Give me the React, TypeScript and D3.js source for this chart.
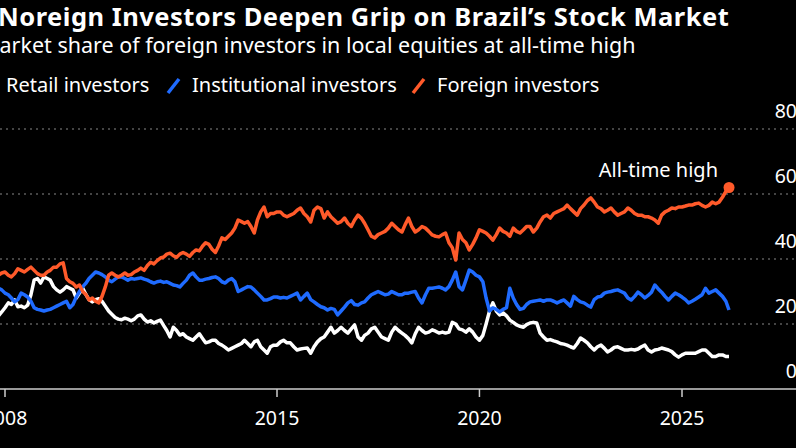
import React from "react";
import * as d3 from "d3";

// Monthly share of trading volume on B3 by investor type, Nov 2007 - Mar 2026 (%)
const startMonth = new Date(2007, 10, 1);

const foreignInvestors = [
  35, 35.7, 36, 35, 34.5, 35.5, 37, 36.5, 36, 36.8,
  37.5, 36.5, 35.5, 35, 35, 36, 36.5, 37.5, 37.5, 38.5,
  38.8, 34, 33, 32.5, 31.4, 32, 30, 29, 27.4, 28,
  27, 26.5, 28.5, 31.4, 35, 35.7, 35, 34.5, 35, 35.7,
  35, 35.2, 36, 36.5, 37.2, 36.5, 38, 39, 38.5, 39.5,
  40.3, 40.6, 41.5, 41.8, 41, 40.5, 41.5, 42, 41.5, 40.8,
  42, 42.8, 42.5, 44, 45, 44.5, 43, 42, 44, 46.5,
  46, 47, 48, 49.5, 52, 51.5, 51, 51.5, 50, 48,
  52, 54.5, 56, 53, 54, 54, 54.5, 54.5, 53.5, 53,
  53.5, 54, 55, 55.7, 54, 53, 51.4, 55, 56, 55.5,
  52.6, 54.5, 53, 52, 51, 51.5, 52.6, 51, 50, 52,
  53.5, 52.5, 51, 49, 47, 46.5, 47.5, 48, 48.5, 49.5,
  51, 50, 49, 48.3, 50.5, 52.6, 50, 48.3, 49, 50,
  49.5, 48.5, 47.4, 47, 46.8, 47.5, 48, 45, 43.5, 39.7,
  48, 46, 45, 42.8, 44.5, 46.5, 49, 48.5, 48, 47,
  45.8, 47.5, 49.5, 48.5, 48, 47, 49.5, 48.5, 48, 49,
  50, 50, 48.3, 49.5, 51.4, 53, 53.5, 52.6, 54, 54.5,
  55, 55.5, 56.6, 55.5, 54.5, 53.5, 55.5, 56.6, 58, 58.8,
  57.5, 56, 55.5, 54.5, 55, 55.7, 54.5, 53.5, 54, 54.5,
  55.7, 55, 54, 53.5, 53.5, 53, 53, 52.6, 52, 51,
  53.5, 54.5, 55, 55.7, 55.5, 56, 56, 56.3, 56.6, 56.6,
  57, 57.2, 56.5, 56, 56.5, 57.5, 57, 57.5, 59, 60.8,
  62,
];

const institutionalInvestors = [
  31, 30.5, 29.5, 29, 28, 26.8, 27.5, 29.5, 29, 28.3,
  27, 25, 24.5, 24.3, 24, 24.3, 24.5, 25, 25.5, 26,
  26.5, 27, 25, 26, 28.3, 30, 31.5, 32.6, 34, 35,
  36, 35.7, 35.2, 34.5, 33.5, 33, 33.8, 34.5, 34.5, 34,
  33.5, 34, 33.8, 34, 34.2, 33.8, 33.5, 33, 32.6, 33,
  33.2, 32.8, 33, 32.5, 32, 31.8, 31.4, 32.5, 33.5, 35,
  35.7, 34.5, 33.5, 33.5, 33.8, 34, 34.3, 34.5, 34, 33,
  32.6, 33.5, 34, 33, 30, 30.5, 31, 31.5, 31.4, 30.5,
  29.5, 28.5, 27.4, 27.4, 27.8, 28.3, 28.3, 28, 28.2, 28,
  28.5, 29, 29.5, 27.4, 28.5, 29.5, 27.5, 26.8, 26, 25.3,
  25, 24.3, 24.8, 24.5, 22.8, 24, 25.2, 26.5, 27.2, 26,
  25.8, 26.5, 26.8, 28, 29, 29.5, 30, 29.5, 29, 29.2,
  30, 29.5, 29, 29, 29.5, 29.5, 29.8, 30, 28, 26.5,
  29, 31, 31, 31.2, 31.4, 31, 30.5, 31.5, 33.5, 36,
  31.5, 30.5, 33.5, 36.6, 36, 35, 34.5, 33, 28, 24,
  25, 24.5, 23.7, 24.5, 25, 31, 28, 26, 24.5, 24.8,
  26, 26.8, 27, 27.2, 27.4, 27, 27.4, 27.4, 27, 26.5,
  27, 27.4, 26.5, 25.5, 28.5, 27.5, 26.8, 26.5, 25.8, 25.2,
  27.5, 28.3, 28.5, 29.5, 29.8, 30, 30.3, 30.5, 30, 29.5,
  28, 27.4, 28.5, 29.8, 29, 28, 28.8, 29.8, 32, 30.8,
  29.8, 28.5, 27.4, 28.5, 29.5, 29, 28.3, 27.5, 26.5, 27,
  27.6, 28.3, 29, 31, 29.5, 30, 30.5, 29.5, 28.5, 27,
  24.3,
];

const retailInvestors = [
  22.5, 23.7, 25, 26.5, 26, 27.4, 25.3, 25.5, 25, 25.8,
  29, 33.5, 34, 32.6, 34.5, 34, 33.5, 31.5, 30.5, 29.8,
  30.5, 31.5, 31, 30.5, 28, 29.5, 31, 29, 27.5, 26.8,
  27.5, 27.8, 27, 25.5, 24, 23, 22, 21.5, 21.3, 21.8,
  21.5, 21, 21.5, 22.5, 22.8, 21.5, 20.6, 21, 20.3, 20.8,
  21.2, 19.5, 18, 16, 19, 18, 16.6, 17, 16, 15.5,
  15, 16, 17, 15.5, 14.2, 14.5, 15, 15, 14, 13.5,
  12.8, 12, 12.5, 13, 13.5, 14, 15, 14, 13, 14.5,
  15, 13, 12, 11, 13, 13.5, 13.5, 14.5, 15, 14.2,
  14.2, 13, 12, 12.3, 12.5, 12.6, 11, 13, 14.5, 15.5,
  16, 17.5, 19, 17.2, 18, 19, 18, 17.2, 18.5, 19.7,
  16, 15, 16.5, 17.2, 18.5, 19, 17.5, 16, 15.5, 15,
  17.5, 19, 18, 17.2, 16.5, 15.5, 14.2, 17, 19, 18,
  17.2, 17.5, 18.2, 17.8, 17.2, 17.5, 17.2, 17.5, 20.5, 20,
  18.5, 18.2, 17.5, 18.5, 17.5, 16, 15, 16.5, 20, 24,
  26.5, 24, 22.8, 23.4, 22.5, 21.2, 20.5, 19.7, 19.3, 19,
  19.8, 20.3, 20.5, 20.3, 17.2, 16, 15, 15.2, 14.8, 14.5,
  14, 13.8, 13.5, 13, 12.6, 14, 15.7, 15, 14.2, 13,
  12, 13, 13.5, 12.5, 11.4, 12, 12.8, 13, 12.5, 12,
  12, 12.2, 12, 12.3, 13, 13.5, 12, 11.4, 12, 12.2,
  12.6, 12.3, 12, 11.5, 10.5, 9.8, 10.5, 11, 11, 11,
  11, 11.5, 12, 12, 11, 10, 10, 10.5, 10.5, 10,
  10,
];

const yTicks = [0, 20, 40, 60, 80];
const xTickYears = [2008, 2015, 2020, 2025];

const seriesInfo = [
  { name: "Retail investors", values: retailInvestors, color: "#ffffff" },
  { name: "Institutional investors", values: institutionalInvestors, color: "#1f6bff" },
  { name: "Foreign investors", values: foreignInvestors, color: "#ff5a2a" },
];

const width = 796;
const height = 448;
const font = "'Noto Sans', 'Open Sans', sans-serif";

export default function App() {
  const dates = foreignInvestors.map((_, i) => d3.timeMonth.offset(startMonth, i));

  const x = d3
    .scaleTime()
    .domain([new Date(2008, 0, 1), new Date(2015, 0, 1), new Date(2025, 0, 1)])
    .range([5, 277, 682]);

  const y = d3.scaleLinear().domain([0, 80]).range([389, 129]);

  const line = d3
    .line<number>()
    .x((_, i) => x(dates[i]))
    .y((d) => y(d));

  const lastIdx = foreignInvestors.length - 1;
  const peakX = x(dates[lastIdx]);
  const peakY = y(foreignInvestors[lastIdx]);

  // legend swatches and labels
  const legend = [
    { label: "Retail investors", color: "#ffffff", sx: -14, tx: 6 },
    { label: "Institutional investors", color: "#1f6bff", sx: 168, tx: 192 },
    { label: "Foreign investors", color: "#ff5a2a", sx: 413, tx: 437 },
  ];

  return (
    <svg
      width={width}
      height={height}
      style={{ position: "absolute", left: 0, top: 0, background: "#000" }}
      fontFamily={font}
    >
      <rect width={width} height={height} fill="#000" />

      <text x={-2} y={26} fill="#fff" fontSize={25.5} fontWeight={700} letterSpacing={0.5}>
        Noreign Investors Deepen Grip on Brazil’s Stock Market
      </text>
      <text x={-20} y={53} fill="#fff" fontSize={21.5}>
        Market share of foreign investors in local equities at all-time high
      </text>

      {legend.map((l) => (
        <g key={l.label}>
          <line
            x1={l.sx}
            y1={93}
            x2={l.sx + 11}
            y2={79}
            stroke={l.color}
            strokeWidth={3.5}
          />
          <text x={l.tx} y={92} fill="#fff" fontSize={20}>
            {l.label}
          </text>
        </g>
      ))}

      {/* gridlines + y labels */}
      {yTicks.map((t) => (
        <g key={t}>
          {t > 0 && (
            <line
              x1={0}
              x2={width}
              y1={y(t)}
              y2={y(t)}
              stroke="#888"
              strokeWidth={1}
              strokeDasharray="2,4"
            />
          )}
          <text
            x={797}
            y={y(t) - 11}
            fill="#fff"
            fontSize={19.5}
            textAnchor="end"
          >
            {t}
          </text>
        </g>
      ))}

      {/* x axis */}
      <line x1={0} x2={width} y1={y(0)} y2={y(0)} stroke="#ccc" strokeWidth={1.5} />
      {xTickYears.map((yr) => {
        const tx = x(new Date(yr, 0, 1));
        return (
          <g key={yr}>
            <line x1={tx} x2={tx} y1={y(0)} y2={y(0) + 8} stroke="#ccc" strokeWidth={1.5} />
            <text x={tx} y={425} fill="#fff" fontSize={19.5} textAnchor="middle">
              {yr}
            </text>
          </g>
        );
      })}

      {seriesInfo.map((s) => (
        <path
          key={s.name}
          d={line(s.values) ?? ""}
          fill="none"
          stroke={s.color}
          strokeWidth={3.5}
          strokeLinejoin="round"
        />
      ))}

      <circle cx={peakX} cy={peakY} r={5.5} fill="#ff5a2a" />
      <text x={peakX - 11} y={177} fill="#fff" fontSize={20} textAnchor="end">
        All-time high
      </text>
    </svg>
  );
}
